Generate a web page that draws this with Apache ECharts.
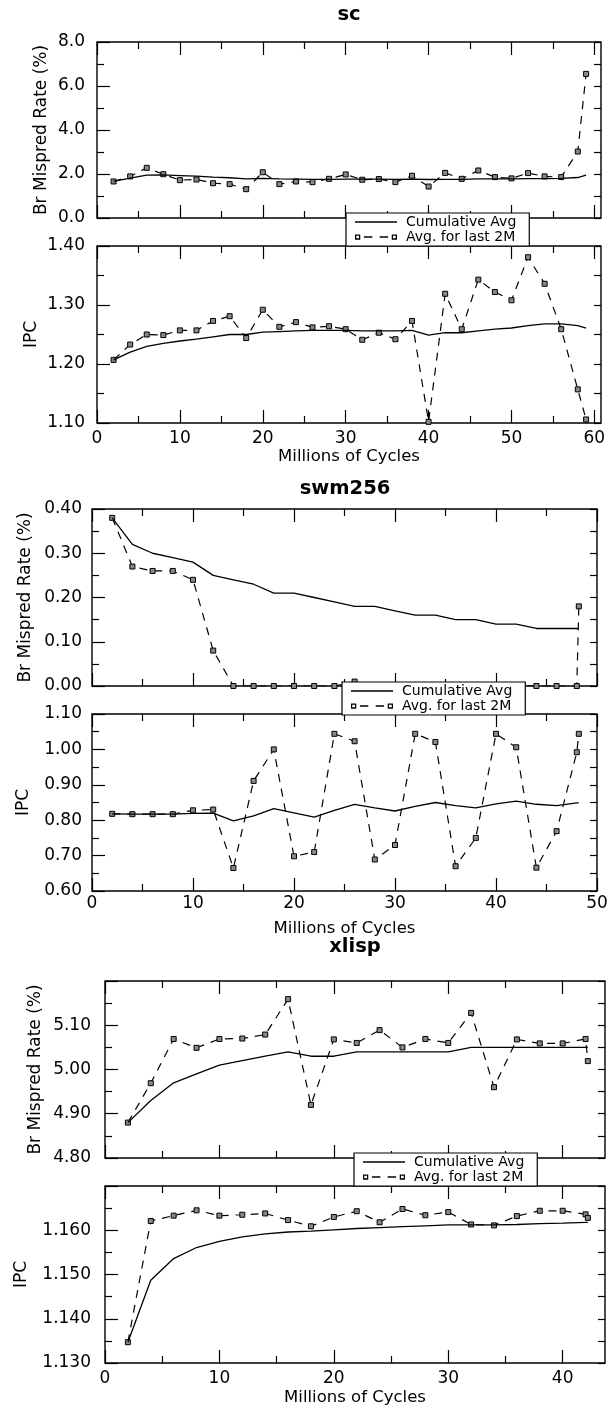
<!DOCTYPE html>
<html>
<head>
<meta charset="utf-8">
<script src="https://cdn.jsdelivr.net/npm/echarts@6/dist/echarts.min.js"></script>
<style>
html,body{margin:0;padding:0;background:#fff;}
#c{width:613px;height:1410px;}
</style>
</head>
<body>
<div id="c"></div>
<script>
// ---------------- DATA ----------------
// sc
const scX = [2,4,6,8,10,12,14,16,18,20,22,24,26,28,30,32,34,36,38,40,42,44,46,48,50,52,54,56,58,59];
const scBrCum  = [1.66,1.81,1.95,1.96,1.93,1.90,1.86,1.83,1.78,1.80,1.78,1.77,1.76,1.76,1.77,1.77,1.77,1.76,1.77,1.75,1.76,1.76,1.78,1.78,1.78,1.79,1.79,1.80,1.84,1.95];
const scBrLast = [1.66,1.89,2.28,1.99,1.72,1.75,1.58,1.54,1.31,2.08,1.54,1.66,1.63,1.78,1.98,1.74,1.77,1.63,1.92,1.43,2.05,1.78,2.16,1.86,1.80,2.04,1.89,1.86,3.02,6.55];
const scIpcCum  = [1.207,1.220,1.230,1.235,1.239,1.242,1.246,1.250,1.250,1.254,1.255,1.256,1.257,1.257,1.257,1.256,1.256,1.256,1.257,1.249,1.253,1.253,1.256,1.259,1.261,1.265,1.268,1.268,1.265,1.261];
const scIpcLast = [1.207,1.233,1.250,1.249,1.257,1.257,1.273,1.281,1.244,1.292,1.263,1.271,1.262,1.264,1.259,1.241,1.253,1.242,1.273,1.102,1.319,1.259,1.343,1.322,1.308,1.381,1.336,1.259,1.157,1.106];
const scXMajor = [0,10,20,30,40,50,60];
const scXMinor = [5,15,25,35,45,55];

// swm256
const swmX = [2,4,6,8,10,12,14,16,18,20,22,24,26,28,30,32,34,36,38,40,42,44,46,48,48.2];
const swmBrCum  = [0.38,0.32,0.30,0.29,0.28,0.25,0.24,0.23,0.21,0.21,0.20,0.19,0.18,0.18,0.17,0.16,0.16,0.15,0.15,0.14,0.14,0.13,0.13,0.13,0.13];
const swmBrLast = [0.38,0.27,0.26,0.26,0.24,0.08,0,0,0,0,0,0,0.01,0,0,0,0,0,0,0,0,0,0,0,0.18];
const swmIpcCum  = [0.818,0.817,0.817,0.817,0.819,0.820,0.798,0.812,0.833,0.821,0.809,0.828,0.845,0.835,0.826,0.839,0.850,0.841,0.835,0.846,0.854,0.845,0.841,0.849,0.849];
const swmIpcLast = [0.818,0.817,0.817,0.817,0.828,0.830,0.665,0.911,1.000,0.698,0.710,1.044,1.023,0.689,0.730,1.044,1.021,0.670,0.750,1.044,1.006,0.666,0.769,0.992,1.044];
const swmXMajor = [0,10,20,30,40,50];
const swmXMinor = [5,15,25,35,45];

// xlisp
const xlX = [2,4,6,8,10,12,14,16,18,20,22,24,26,28,30,32,34,36,38,40,42,42.2];
const xlBrCum  = [4.88,4.93,4.97,4.99,5.01,5.02,5.03,5.04,5.03,5.03,5.04,5.04,5.04,5.04,5.04,5.05,5.05,5.05,5.05,5.05,5.05,5.05];
const xlBrLast = [4.880,4.969,5.069,5.049,5.069,5.070,5.079,5.159,4.920,5.068,5.060,5.089,5.050,5.069,5.060,5.128,4.960,5.068,5.059,5.059,5.069,5.019];
const xlIpcCum  = [1.1347,1.1487,1.1536,1.1561,1.1575,1.1585,1.1592,1.1596,1.1598,1.1601,1.1604,1.1606,1.1608,1.1610,1.1612,1.1612,1.1612,1.1613,1.1615,1.1616,1.1618,1.1618];
const xlIpcLast = [1.1347,1.1621,1.1633,1.1645,1.1633,1.1635,1.1638,1.1623,1.1609,1.1630,1.1643,1.1618,1.1648,1.1634,1.1641,1.1613,1.1611,1.1632,1.1644,1.1644,1.1636,1.1628];
const xlXMajor = [0,10,20,30,40];
const xlXMinor = [5,15,25,35];

const titles = ['sc','swm256','xlisp'];
const seriesNames = ['Cumulative Avg','Avg. for last 2M'];
const xName = 'Millions of Cycles';
const brName = 'Br Mispred Rate (%)';
const ipcName = 'IPC';

// ---------------- LAYOUT ----------------
const F = 'DejaVu Sans';
const panels = [
  {x:scX, cum:scBrCum, last:scBrLast, xmax:60.8, maj:scXMajor, mnr:scXMinor, ymin:0, ymax:8, yint:2, dec:1,
   grid:{left:97, top:42, width:504, height:176}, yname:brName, nameGap:47, lm:12, showX:false, hideMax:false},
  {x:scX, cum:scIpcCum, last:scIpcLast, xmax:60.8, maj:scXMajor, mnr:scXMinor, ymin:1.10, ymax:1.40, yint:0.10, dec:2,
   grid:{left:97, top:246, width:504, height:177}, yname:ipcName, nameGap:57, lm:12, showX:true, xm:7, xg:25, hideMax:false},
  {x:swmX, cum:swmBrCum, last:swmBrLast, xmax:50, maj:swmXMajor, mnr:swmXMinor, ymin:0, ymax:0.40, yint:0.10, dec:2,
   grid:{left:92, top:509, width:505, height:177}, yname:brName, nameGap:58, lm:10, showX:false, hideMax:false},
  {x:swmX, cum:swmIpcCum, last:swmIpcLast, xmax:50, maj:swmXMajor, mnr:swmXMinor, ymin:0.60, ymax:1.10, yint:0.10, dec:2,
   grid:{left:92, top:714, width:505, height:177}, yname:ipcName, nameGap:60, lm:10, showX:true, xm:4, xg:29, hideMax:false},
  {x:xlX, cum:xlBrCum, last:xlBrLast, xmax:43.7, maj:xlXMajor, mnr:xlXMinor, ymin:4.80, ymax:5.20, yint:0.10, dec:2,
   grid:{left:105, top:981, width:500, height:177}, yname:brName, nameGap:61, lm:14, showX:false, hideMax:true},
  {x:xlX, cum:xlIpcCum, last:xlIpcLast, xmax:43.7, maj:xlXMajor, mnr:xlXMinor, ymin:1.130, ymax:1.170, yint:0.010, dec:3,
   grid:{left:105, top:1186, width:500, height:177}, yname:ipcName, nameGap:75, lm:14, showX:true, xm:7, xg:26, hideMax:true}
];

const tickLS = {color:'#000', width:1.2};
const noLine = {show:false, onZero:false};
const grids = [], xAxes = [], yAxes = [], series = [];

panels.forEach((p, i) => {
  grids.push(Object.assign({show:true, borderColor:'#000', borderWidth:1.4, backgroundColor:'transparent',
    containLabel:false, outerBoundsMode:'none'}, p.grid));
  const base = {type:'value', gridIndex:i, min:0, max:p.xmax, splitLine:{show:false},
    axisLine:noLine, nameMoveOverlap:false};
  // bottom major
  xAxes.push(Object.assign({}, base, {
    position:'bottom',
    axisTick:{show:true, inside:true, length:13, lineStyle:tickLS, customValues:p.maj},
    axisLabel:{show:p.showX, customValues:p.maj, margin:p.xm || 7, fontFamily:F, fontSize:17, color:'#000'},
    name:p.showX ? xName : '', nameLocation:'middle', nameGap:p.xg || 25,
    nameTextStyle:{fontFamily:F, fontSize:16.5, color:'#000'}
  }));
  // bottom minor
  xAxes.push(Object.assign({}, base, {
    position:'bottom',
    axisTick:{show:true, inside:true, length:7, lineStyle:tickLS, customValues:p.mnr},
    axisLabel:{show:false}
  }));
  // top major
  xAxes.push(Object.assign({}, base, {
    position:'top',
    axisTick:{show:true, inside:true, length:13, lineStyle:tickLS, customValues:p.maj},
    axisLabel:{show:false}
  }));
  // top minor
  xAxes.push(Object.assign({}, base, {
    position:'top',
    axisTick:{show:true, inside:true, length:7, lineStyle:tickLS, customValues:p.mnr},
    axisLabel:{show:false}
  }));
  // left y
  yAxes.push({
    type:'value', gridIndex:i, position:'left', min:p.ymin, max:p.ymax, interval:p.yint,
    splitLine:{show:false}, axisLine:noLine,
    axisTick:{show:true, inside:true, length:13, lineStyle:tickLS},
    minorTick:{show:true, splitNumber:2, length:7, lineStyle:tickLS},
    axisLabel:{margin:p.lm, fontFamily:F, fontSize:17, color:'#000', showMaxLabel:!p.hideMax, showMinLabel:true,
      formatter:(v) => Number(v).toFixed(p.dec)},
    name:p.yname, nameLocation:'middle', nameRotate:90, nameGap:p.nameGap, nameMoveOverlap:false,
    nameTextStyle:{fontFamily:F, fontSize:17, color:'#000'}
  });
  // right y
  yAxes.push({
    type:'value', gridIndex:i, position:'right', min:p.ymin, max:p.ymax, interval:p.yint/2,
    splitLine:{show:false}, axisLine:noLine,
    axisTick:{show:true, inside:true, length:7, lineStyle:tickLS},
    axisLabel:{show:false}
  });
  series.push({
    type:'line', name:seriesNames[0], xAxisIndex:4*i, yAxisIndex:2*i,
    data:p.x.map((xv, k) => [xv, p.cum[k]]),
    symbol:'none', lineStyle:{color:'#000', width:1.3}, itemStyle:{color:'#000'},
    silent:true, z:3, animation:false
  });
  series.push({
    type:'line', name:seriesNames[1], xAxisIndex:4*i, yAxisIndex:2*i,
    data:p.x.map((xv, k) => [xv, p.last[k]]),
    symbol:'rect', symbolSize:5, showAllSymbol:true,
    lineStyle:{color:'#000', width:1.2, type:[8,7]},
    itemStyle:{color:'#888', borderColor:'#000', borderWidth:1},
    silent:true, z:2, animation:false
  });
});

const lineIcon = 'path://M0,0H40V1.3H0Z';
const dashIcon = 'path://M0,0H5V5H0Z M1.2,1.2V3.8H3.8V1.2Z M8.5,1.9H16.5V3.1H8.5Z M23.5,1.9H31.5V3.1H23.5Z M35,0H40V5H35Z M36.2,1.2V3.8H38.8V1.2Z';

function legendAt(left, top) {
  return {
    left:left, top:top, orient:'vertical', padding:[2,13,2,9], itemGap:1,
    itemWidth:42, itemHeight:6, backgroundColor:'#fff', borderColor:'#000', borderWidth:1.2,
    selectedMode:false, z:10,
    itemStyle:{color:'#000', borderWidth:0},
    textStyle:{fontFamily:F, fontSize:14, color:'#000', lineHeight:14, padding:[0,0,0,4]},
    data:[{name:seriesNames[0], icon:lineIcon}, {name:seriesNames[1], icon:dashIcon}]
  };
}

const titleStyle = {fontFamily:F, fontSize:19.5, fontWeight:'bold', color:'#000'};
const option = {
  animation:false,
  backgroundColor:'#fff',
  title:[
    {text:titles[0], left:349, top:5, textAlign:'center', padding:0, textStyle:titleStyle},
    {text:titles[1], left:345, top:479, textAlign:'center', padding:0, textStyle:titleStyle},
    {text:titles[2], left:355, top:937, textAlign:'center', padding:0, textStyle:titleStyle}
  ],
  legend:[legendAt(346,213), legendAt(342,682), legendAt(354,1153)],
  grid:grids,
  xAxis:xAxes,
  yAxis:yAxes,
  series:series
};

const chart = echarts.init(document.getElementById('c'), null, {renderer:'canvas'});
chart.setOption(option);
</script>
</body>
</html>
